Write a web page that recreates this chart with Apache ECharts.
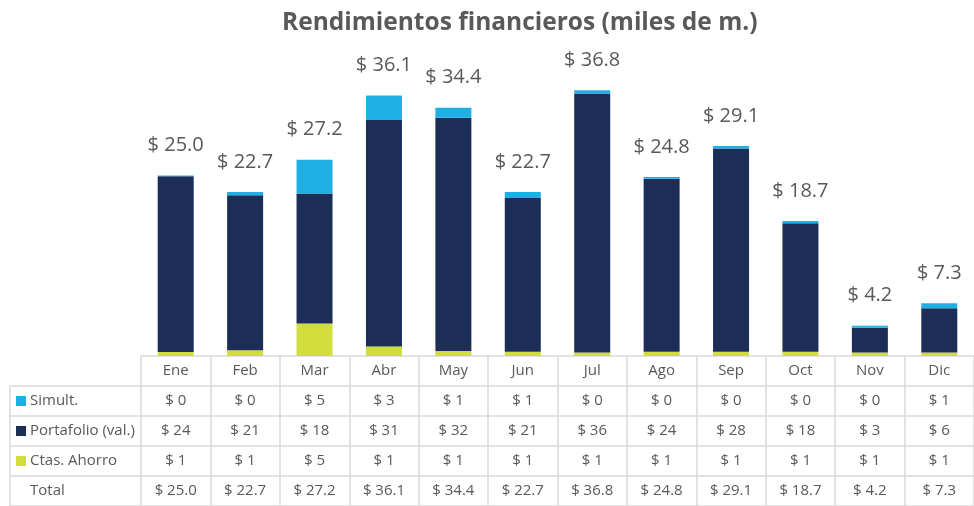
<!DOCTYPE html>
<html>
<head>
<meta charset="utf-8">
<script src="https://cdn.jsdelivr.net/npm/echarts@6/dist/echarts.min.js"></script>
<style>
  html, body { margin: 0; padding: 0; background: #fff; }
  #chart { width: 974px; height: 506px; }
</style>
</head>
<body>
<div id="chart"></div>
<script>
// datos (miles de m.)
var months = ['Ene', 'Feb', 'Mar', 'Abr', 'May', 'Jun', 'Jul', 'Ago', 'Sep', 'Oct', 'Nov', 'Dic'];
var simult = [0.1, 0.45, 4.7, 3.4, 1.4, 0.8, 0.45, 0.25, 0.35, 0.3, 0.3, 0.7];
var portafolio = [24.35, 21.45, 18.0, 31.4, 32.3, 21.3, 35.85, 23.95, 28.15, 17.8, 3.4, 6.1];
var ctasAhorro = [0.55, 0.8, 4.5, 1.3, 0.7, 0.6, 0.5, 0.6, 0.6, 0.6, 0.5, 0.5];
var totals = [25.0, 22.7, 27.2, 36.1, 34.4, 22.7, 36.8, 24.8, 29.1, 18.7, 4.2, 7.3];

var seriesNames = ['Simult.', 'Portafolio (val.)', 'Ctas. Ahorro'];
var colors = ['#20afe5', '#1c2d58', '#d0dd3a'];

var textColor = '#595959';
var lineColor = '#d9d9d9';
var font = '"Open Sans", "Noto Sans", sans-serif';

// layout de la tabla
var gridBottom = 150;   // tabla debajo del eje
var rowH = 30;
var chartH = 506, chartW = 974;
var axisY = chartH - gridBottom;

function money(v) { return '$ ' + Math.round(v); }

var rows = [
  simult.map(money),
  portafolio.map(money),
  ctasAhorro.map(money),
  totals.map(function (v) { return '$ ' + v.toFixed(1); })
];

// ejes extra = filas de la tabla
var xAxes = [{
  type: 'category',
  data: months,
  axisLine: { show: true, lineStyle: { color: lineColor, width: 1.5 } },
  axisTick: { show: true, interval: 0, length: gridBottom, lineStyle: { color: lineColor, width: 1.5 } },
  axisLabel: { color: textColor, fontSize: 15, fontFamily: font, margin: 7 }
}];
rows.forEach(function (r, k) {
  xAxes.push({
    type: 'category',
    data: months,
    position: 'bottom',
    offset: rowH * (k + 1),
    axisLine: { show: false },
    axisTick: { show: false },
    axisLabel: {
      color: textColor, fontSize: 15, fontFamily: font, margin: 7,
      formatter: function (v, i) { return r[i]; }
    }
  });
});

// lineas horizontales + encabezados de fila
var graphics = [];
for (var k = 1; k <= 5; k++) {
  var y = axisY + rowH * k;
  graphics.push({
    type: 'line',
    shape: { x1: 10, y1: y, x2: chartW, y2: y },
    style: { stroke: lineColor, lineWidth: 1.5 }
  });
}
graphics.push({
  type: 'line',
  shape: { x1: 10, y1: axisY + rowH, x2: 10, y2: chartH },
  style: { stroke: lineColor, lineWidth: 1.5 }
});
var headers = seriesNames.concat(['Total']);
headers.forEach(function (h, k) {
  var cy = axisY + rowH * (k + 1) + rowH / 2;
  if (k < 3) {
    graphics.push({
      type: 'rect',
      shape: { x: 16, y: cy - 5, width: 10, height: 10 },
      style: { fill: colors[k] }
    });
  }
  graphics.push({
    type: 'text',
    x: 30, y: cy,
    style: { text: h, fill: textColor, font: '15px ' + font, textVerticalAlign: 'middle' }
  });
});

var chart = echarts.init(document.getElementById('chart'));
var option = {
  backgroundColor: '#fff',
  animation: false,
  title: {
    text: 'Rendimientos financieros (miles de m.)',
    left: 277,
    top: 6,
    textStyle: { color: textColor, fontSize: 24.5, fontWeight: 'bold', fontFamily: font }
  },
  grid: { left: 141, right: 0, top: 60, bottom: gridBottom },
  xAxis: xAxes,
  yAxis: { type: 'value', min: 0, max: 41, show: false, splitLine: { show: false } },
  graphic: graphics,
  series: [
    {
      name: seriesNames[2], type: 'bar', stack: 'total', barWidth: 36,
      itemStyle: { color: colors[2] },
      data: ctasAhorro
    },
    {
      name: seriesNames[1], type: 'bar', stack: 'total', barWidth: 36,
      itemStyle: { color: colors[1] },
      data: portafolio
    },
    {
      name: seriesNames[0], type: 'bar', stack: 'total', barWidth: 36,
      itemStyle: { color: colors[0] },
      label: {
        show: true, position: 'top', distance: 20,
        color: textColor, fontSize: 20, fontFamily: font,
        formatter: function (p) { return '$ ' + totals[p.dataIndex].toFixed(1); }
      },
      data: simult
    }
  ]
};
chart.setOption(option);
</script>
</body>
</html>
